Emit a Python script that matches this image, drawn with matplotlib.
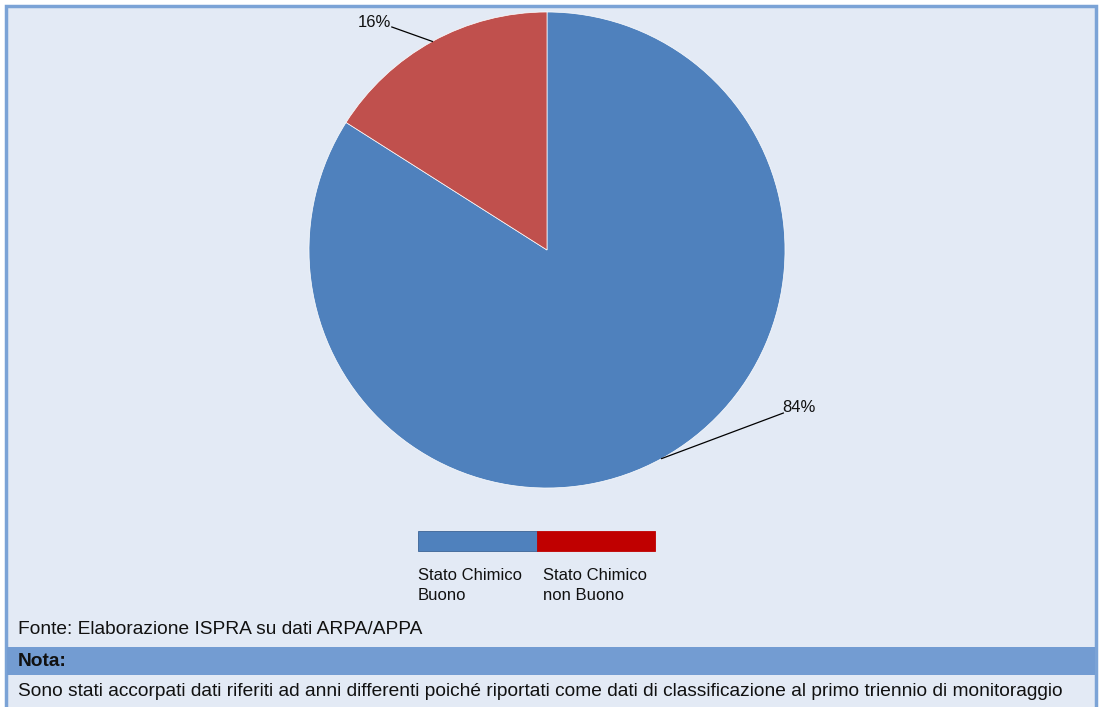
import matplotlib
matplotlib.use("Agg")
import matplotlib.pyplot as plt
from matplotlib.patches import Rectangle
import numpy as np

categories = ["Stato Chimico\nBuono", "Stato Chimico\nnon Buono"]
values = [84, 16]
pct_labels = ["84%", "16%"]
slice_colors = ["#4F81BD", "#C0504D"]
legend_colors = ["#4F81BD", "#C00000"]
source_text = "Fonte: Elaborazione ISPRA su dati ARPA/APPA"
note_title = "Nota:"
note_text = ("Sono stati accorpati dati riferiti ad anni differenti poiché riportati come dati "
             "di classificazione al primo triennio di monitoraggio")

W, H = 1101, 707
fig = plt.figure(figsize=(W / 100, H / 100), dpi=100, facecolor="white")

bg = fig.add_axes([0, 0, 1, 1])
bg.set_xlim(0, W)
bg.set_ylim(H, 0)
bg.axis("off")
bg.add_patch(Rectangle((6, 6), 1090, 710, facecolor="#E3EAF5", edgecolor="#7BA3D6", linewidth=2.5))
bg.add_patch(Rectangle((7, 647), 1088, 28, facecolor="#739CD2", edgecolor="none"))

font = ["Liberation Sans", "DejaVu Sans"]
bg.text(18, 629, source_text, fontsize=13.8, family=font, va="center", ha="left", color="#111111")
bg.text(18, 662, note_title, fontsize=13.8, family=font, weight="bold", va="center", ha="left", color="#111111")
bg.text(18, 691, note_text, fontsize=13.8, family=font, va="center", ha="left", color="#111111")

# legend
lx, ly, lw, lh = 418, 531, 118.5, 20
for i, (lab, col) in enumerate(zip(categories, legend_colors)):
    bg.add_patch(Rectangle((lx + i * lw, ly), lw, lh, facecolor=col,
                           edgecolor="#3B6396" if i == 0 else col, linewidth=0.6))
    bg.text(lx + i * 125, 567.5, lab, fontsize=12, family=font,
            va="top", ha="left", color="#111111", linespacing=1.45)

# pie
cx, cy, r = 547, 250, 238
pax = fig.add_axes([(cx - r) / W, (H - cy - r) / H, 2 * r / W, 2 * r / H])
wedges, _ = pax.pie(values, colors=slice_colors, startangle=90, counterclock=False,
                    radius=1, wedgeprops=dict(edgecolor="white", linewidth=0.5))
pax.set_xlim(-1, 1)
pax.set_ylim(-1, 1)
pax.set_aspect("equal")
pax.axis("off")

label_pos = [(0.993, -0.685), (-0.652, 0.937)]
text_pos = [(0.99, -0.663), (-0.725, 0.955)]
has = ["left", "center"]
for w, lab, lp, tp, ha in zip(wedges, pct_labels, label_pos, text_pos, has):
    ang = np.deg2rad((w.theta1 + w.theta2) / 2)
    x0, y0 = np.cos(ang), np.sin(ang)
    pax.plot([x0, lp[0]], [y0, lp[1]], color="black", linewidth=0.9, clip_on=False)
    pax.text(tp[0], tp[1], lab, fontsize=12, family=font,
             ha=ha, va="center", color="#111111", clip_on=False)

fig.savefig("out.png", dpi=100, facecolor="white")
